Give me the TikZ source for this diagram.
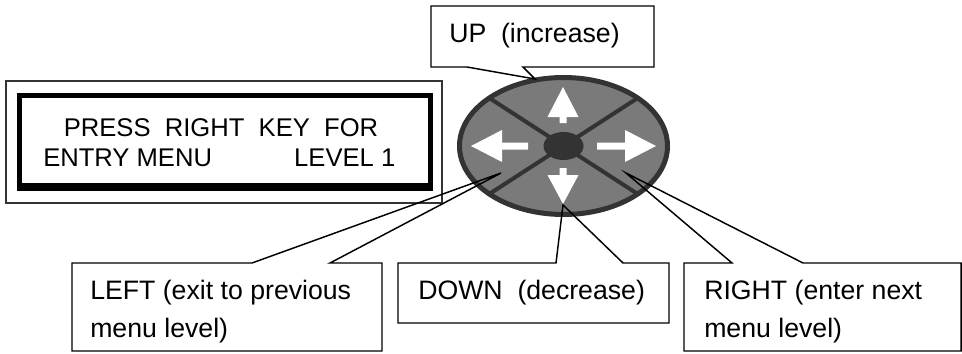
\documentclass[tikz,border=0pt]{standalone}
\usepackage{fontspec}
\setmainfont{Liberation Sans}
\usetikzlibrary{positioning}

\definecolor{padgray}{RGB}{122,122,122}
\definecolor{paddark}{RGB}{51,51,51}

\begin{document}
\begin{tikzpicture}[x=0.75pt,y=-0.75pt,line join=miter,
  every node/.style={inner sep=0pt,anchor=base west,align=left,font=\fontsize{20}{28.5}\selectfont},
  lcdtext/.style={font=\fontsize{19.2}{24}\selectfont},
  callout/.style={draw=black,line width=1.1pt},
  keyline/.style={draw=paddark,line width=3pt},
  keyarrow/.style={fill=white}]
\useasboundingbox (0,0) rectangle (962,353);

% display
\draw[line width=1.2pt,draw=black!80] (6,81) rectangle (442,203);
\draw[line width=3.75pt] (19.5,95.5) rectangle (430.5,186);
\fill (17,183) rectangle (433,191);
\node[lcdtext,anchor=base] (lcdtop) at (221,136) {PRESS\ \ RIGHT\ \ KEY\ \ FOR};
\node[lcdtext] (lcdbot) at (43,166) {\hbox to 264pt{ENTRY MENU\hfill LEVEL 1}};

% keypad
\coordinate (padc) at (563.5,146);
\filldraw[fill=padgray,draw=paddark,line width=3.75pt] (padc) ellipse [x radius=104,y radius=68.5];
\begin{scope}
  \clip (padc) ellipse [x radius=104,y radius=68.5];
  \draw[keyline] (480,92) -- (647,200);
  \draw[keyline] (480,200) -- (647,92);
\end{scope}
\fill[paddark] (padc) ellipse [x radius=20,y radius=14];
\fill[keyarrow] (563,87) -- (578.5,117) -- (566.5,117) -- (566.5,123) -- (559.5,123) -- (559.5,117) -- (547.5,117) -- cycle;
\fill[keyarrow] (563,204) -- (578.5,175) -- (566.5,175) -- (566.5,168) -- (559.5,168) -- (559.5,175) -- (547.5,175) -- cycle;
\fill[keyarrow] (471,146) -- (502,130) -- (502,142.5) -- (528,142.5) -- (528,149.5) -- (502,149.5) -- (502,162) -- cycle;
\fill[keyarrow] (656,146) -- (625,130) -- (625,142.5) -- (597,142.5) -- (597,149.5) -- (625,149.5) -- (625,162) -- cycle;

% callout tips
\coordinate (tipup) at (535,79);
\coordinate (tipleft) at (501,173);
\coordinate (tipdown) at (563,205);
\coordinate (tipright) at (626,173);

% callouts
\draw[callout] (431,6) -- (654,6) -- (654,67) -- (523,67) -- (tipup) -- (467,67) -- (431,67) -- cycle;
\node (up) at (449,43) {UP\ \ (increase)};

\draw[callout] (72,263) -- (252,263) -- (tipleft) -- (330,263) -- (382,263) -- (382,351) -- (72,351) -- cycle;
\node (left) at (90,337) {LEFT (exit to previous\\menu level)};

\draw[callout] (398,263) -- (556,263) -- (tipdown) -- (623,263) -- (669,263) -- (669,323) -- (398,323) -- cycle;
\node (down) at (418,299) {DOWN\ \ (decrease)};

\draw[callout] (684,263) -- (732,263) -- (tipright) -- (803,263) -- (961,263) -- (961,351) -- (684,351) -- cycle;
\node (right) at (704,337) {RIGHT (enter next\\menu level)};
\end{tikzpicture}
\end{document}
